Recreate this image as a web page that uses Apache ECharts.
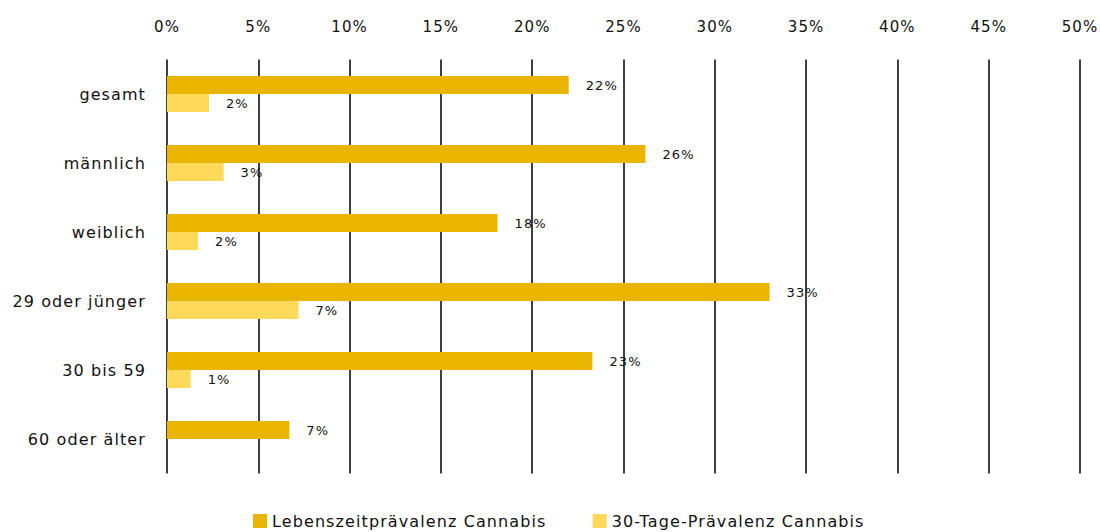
<!DOCTYPE html>
<html>
<head>
<meta charset="utf-8">
<script src="https://cdn.jsdelivr.net/npm/echarts@6/dist/echarts.min.js"></script>
<style>
  html, body { margin: 0; padding: 0; background: #fff; }
  #chart { width: 1100px; height: 532px; }
  /* slightly tracked lettering for every label */
  #chart svg text { letter-spacing: 1.1px; }
</style>
</head>
<body>
<div id="chart"></div>
<script>
// Gruppen (von oben nach unten)
const categories = ['gesamt', 'männlich', 'weiblich', '29 oder jünger', '30 bis 59', '60 oder älter'];
// Lebenszeitprävalenz Cannabis, in %
const lifetime = [22.0, 26.2, 18.1, 33.0, 23.3, 6.7];
// 30-Tage-Prävalenz Cannabis, in %
const thirtyDay = [2.3, 3.1, 1.7, 7.2, 1.3, null];
const seriesNames = ['Lebenszeitprävalenz Cannabis', '30-Tage-Prävalenz Cannabis'];
const axisTicks = [0, 5, 10, 15, 20, 25, 30, 35, 40, 45, 50];

const FONT = 'DejaVu Sans';
const chart = echarts.init(document.getElementById('chart'), null, { renderer: 'svg' });

const pctLabel = (p) => Math.round(p.value) + '%';

chart.setOption({
  animation: false,
  textStyle: { fontFamily: FONT },
  grid: { left: 167, right: 20, top: 59.5, bottom: 58.5 },
  legend: {
    top: 513,
    left: 253,
    padding: 0,
    itemWidth: 14,
    itemHeight: 14,
    itemGap: 77,
    icon: 'rect',
    textStyle: { fontFamily: FONT, fontSize: 16, color: '#111' },
    data: seriesNames
  },
  xAxis: {
    type: 'value',
    position: 'top',
    min: axisTicks[0],
    max: axisTicks[axisTicks.length - 1],
    interval: 5,
    axisLine: { show: false },
    axisTick: { show: false },
    axisLabel: {
      formatter: '{value}%',
      fontFamily: FONT,
      fontSize: 15,
      color: '#111',
      margin: 25
    },
    splitLine: { show: true, lineStyle: { color: '#000', width: 1.5 } }
  },
  yAxis: {
    type: 'category',
    inverse: true,
    data: categories,
    axisLine: { show: false },
    axisTick: { show: false },
    axisLabel: { fontFamily: FONT, fontSize: 16, color: '#111', margin: 21 }
  },
  series: [
    {
      name: seriesNames[0],
      type: 'bar',
      data: lifetime,
      barWidth: 18,
      barGap: '0%',
      itemStyle: { color: '#E9B500' },
      label: {
        show: true, position: 'right', distance: 17,
        formatter: pctLabel, fontFamily: FONT, fontSize: 13, color: '#111'
      }
    },
    {
      name: seriesNames[1],
      type: 'bar',
      data: thirtyDay,
      barWidth: 18,
      barGap: '0%',
      itemStyle: { color: '#FFD95A' },
      label: {
        show: true, position: 'right', distance: 17,
        formatter: pctLabel, fontFamily: FONT, fontSize: 13, color: '#111'
      }
    }
  ]
});
</script>
</body>
</html>
